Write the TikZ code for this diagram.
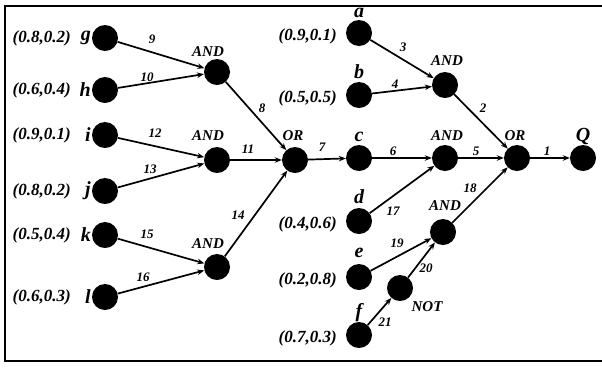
\documentclass[tikz,border=0pt]{standalone}
\usepackage{fontspec}
\setmainfont{Liberation Serif}
\usepackage{tikz}
\usetikzlibrary{arrows.meta}

\begin{document}
\begin{tikzpicture}[x=1pt,y=-1pt,
    dot/.style={circle,fill=black,minimum size=26pt,inner sep=0pt},
    prob/.style={font=\fontsize{17}{17}\selectfont\bfseries\itshape,
        anchor=east,inner sep=0pt},
    var/.style={font=\fontsize{20}{20}\selectfont\bfseries\itshape,
        inner sep=0pt},
    gate/.style={font=\fontsize{15}{15}\selectfont\bfseries\itshape,
        inner sep=0pt},
    num/.style={font=\fontsize{13}{13}\selectfont\bfseries\itshape,
        inner sep=0pt},
    wire/.style={-{Stealth[length=7pt,width=5.5pt]},line width=1.7pt}]
    \useasboundingbox (0,0) rectangle (602,368);
    \draw[line width=1.2pt] (602,6) -- (5,6) -- (5,361) -- (602,361);

    % inputs, left group
    \foreach \v/\p/\y in {g/{(0.8,0.2)}/38, h/{(0.6,0.4)}/90,
        i/{(0.9,0.1)}/135, j/{(0.8,0.2)}/191, k/{(0.5,0.4)}/235,
        l/{(0.6,0.3)}/297}
    {
        \node[dot] (\v) at (105,\y) {};
        \node[var,anchor=east] (l\v) at (91,\y) {\v};
        \node[prob] (p\v) at (71,\y) {\p};
    }

    % inputs, right group
    \foreach \v/\p/\y/\ly in {a/{(0.9,0.1)}/33/13, b/{(0.5,0.5)}/95/72,
        d/{(0.4,0.6)}/221/197, e/{(0.2,0.8)}/277/253, f/{(0.7,0.3)}/335/313}
    {
        \node[dot] (\v) at (359,\y) {};
        \node[var] (l\v) at (359,\ly) {\v};
        \node[prob] (p\v) at (337,\y+3) {\p};
    }
    \node[dot] (c) at (359,158) {};
    \node[var] (lc) at (359,137) {c};

    % gates
    \node[dot] (and1) at (217,72) {};
    \node[dot] (and2) at (217,160) {};
    \node[dot] (and3) at (217,267) {};
    \node[dot] (or1) at (295,160) {};
    \node[dot] (and4) at (445,85) {};
    \node[dot] (and5) at (445,158) {};
    \node[dot] (and6) at (443,232) {};
    \node[dot] (not) at (400,288) {};
    \node[dot] (or2) at (517,158) {};
    \node[dot] (q) at (583,158) {};

    \node[gate] (tand1) at (208,52) {AND};
    \node[gate] (tand2) at (208,136) {AND};
    \node[gate] (tand3) at (208,244) {AND};
    \node[gate] (tor1) at (293,136) {OR};
    \node[gate] (tand4) at (447,61) {AND};
    \node[gate] (tand5) at (447,136) {AND};
    \node[gate] (tor2) at (515,136) {OR};
    \node[gate] (tand6) at (445,206) {AND};
    \node[gate] (tnot) at (427,307) {NOT};
    \node[var] (tq) at (583,136) {Q};

    % connectors
    \draw[wire] (g) -- (and1);
    \draw[wire] (h) -- (and1);
    \draw[wire] (i) -- (and2);
    \draw[wire] (j) -- (and2);
    \draw[wire] (k) -- (and3);
    \draw[wire] (l) -- (and3);
    \draw[wire] (and1) -- (or1);
    \draw[wire] (and2) -- (or1);
    \draw[wire] (and3) -- (or1);
    \draw[wire] (or1) -- (c);
    \draw[wire] (c) -- (and5);
    \draw[wire] (d) -- (and5);
    \draw[wire] (a) -- (and4);
    \draw[wire] (b) -- (and4);
    \draw[wire] (and4) -- (or2);
    \draw[wire] (and5) -- (or2);
    \draw[wire] (and6) -- (or2);
    \draw[wire] (e) -- (and6);
    \draw[wire] (f) -- (not);
    \draw[wire] (not) -- (and6);
    \draw[wire] (or2) -- (q);

    % connector numbers
    \foreach \t/\x/\y in {1/547/151, 2/483/108, 3/403/47, 4/395/84,
        5/476/151, 6/393/151, 7/322/147, 8/262/108, 9/152/39, 10/147/77,
        11/248/149, 12/155/133, 13/150/169, 14/238/215, 15/147/234,
        16/143/277, 17/393/211, 18/470/188, 19/397/243, 20/426/268,
        21/385/322}
        \node[num] (n\t) at (\x,\y) {\t};
\end{tikzpicture}
\end{document}
